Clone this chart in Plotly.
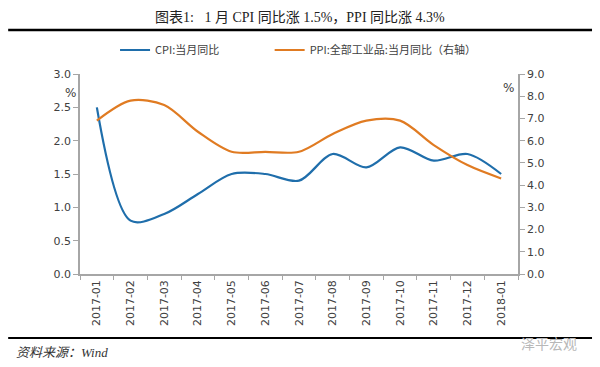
import plotly.graph_objects as go

months = ["2017-01", "2017-02", "2017-03", "2017-04", "2017-05", "2017-06", "2017-07",
          "2017-08", "2017-09", "2017-10", "2017-11", "2017-12", "2018-01"]
cpi = [2.5, 0.8, 0.9, 1.2, 1.5, 1.5, 1.4, 1.8, 1.6, 1.9, 1.7, 1.8, 1.5]
ppi = [6.9, 7.8, 7.6, 6.4, 5.5, 5.5, 5.5, 6.3, 6.9, 6.9, 5.8, 4.9, 4.3]
left_ticks = [0.0, 0.5, 1.0, 1.5, 2.0, 2.5, 3.0]
right_ticks = [0.0, 1.0, 2.0, 3.0, 4.0, 5.0, 6.0, 7.0, 8.0, 9.0]

title_text = "图表1:   1 月 CPI 同比涨 1.5%，PPI 同比涨 4.3%"
source_text = "资料来源：Wind"

axis_color = "#A6A6A6"
tick_font = dict(family="DejaVu Sans, Verdana, sans-serif", size=11, color="#404040")
legend_font = dict(family="Noto Sans CJK SC, sans-serif", size=11, color="#404040")

fig = go.Figure()
fig.add_trace(go.Scatter(x=months, y=cpi, name="CPI:当月同比", mode="lines", legend="legend",
                         line=dict(color="#1F6EAB", width=2.2, shape="spline", smoothing=0.9)))
fig.add_trace(go.Scatter(x=months, y=ppi, name="PPI:全部工业品:当月同比（右轴）", mode="lines",
                         yaxis="y2", legend="legend2",
                         line=dict(color="#E07B22", width=2.2, shape="spline", smoothing=0.9)))

fig.update_layout(
    width=600, height=367,
    paper_bgcolor="white", plot_bgcolor="white",
    margin=dict(l=80, r=82, t=74, b=93, autoexpand=False),
    showlegend=True,
    legend=dict(orientation="h", x=0.08, y=1.12, xanchor="left", yanchor="middle",
                font=legend_font, itemwidth=30, bgcolor="rgba(0,0,0,0)"),
    legend2=dict(orientation="h", x=0.433, y=1.12, xanchor="left", yanchor="middle",
                 font=legend_font, itemwidth=30, bgcolor="rgba(0,0,0,0)"),
    xaxis=dict(type="category", range=[-0.5, 12.5], tickson="boundaries",
               showline=True, linecolor=axis_color, linewidth=1.5,
               ticks="outside", ticklen=4, tickcolor=axis_color,
               tickangle=-90, tickfont=tick_font, showgrid=False, zeroline=False),
    yaxis=dict(range=[0, 3.0], tickvals=left_ticks, ticktext=[f"{v:.1f}" for v in left_ticks],
               showline=True, linecolor=axis_color, linewidth=1.5,
               ticks="outside", ticklen=5, tickcolor=axis_color,
               tickfont=tick_font, showgrid=False, zeroline=False),
    yaxis2=dict(range=[0, 9.0], tickvals=right_ticks, ticktext=[f"{v:.1f}" for v in right_ticks],
                overlaying="y", side="right",
                showline=True, linecolor=axis_color, linewidth=1.5,
                ticks="outside", ticklen=5, tickcolor=axis_color,
                tickfont=tick_font, showgrid=False, zeroline=False),
    shapes=[
        dict(type="line", xref="paper", yref="paper", x0=-0.164, x1=1.169, y0=1.22, y1=1.22,
             line=dict(color="black", width=2.5)),
        dict(type="line", xref="paper", yref="paper", x0=-0.164, x1=1.169, y0=-0.32, y1=-0.32,
             line=dict(color="black", width=2)),
    ],
    annotations=[
        dict(text=title_text, xref="paper", yref="paper", x=0.502, y=1.285, showarrow=False,
             xanchor="center", yanchor="middle",
             font=dict(family="Liberation Serif, Noto Sans CJK SC, serif", size=14, color="#222222")),
        dict(text="%", xref="paper", yref="paper", x=-0.005, y=0.905, showarrow=False,
             xanchor="right", yanchor="middle",
             font=dict(family="DejaVu Sans, sans-serif", size=12, color="#404040")),
        dict(text="%", xref="paper", yref="paper", x=0.995, y=0.93, showarrow=False,
             xanchor="right", yanchor="middle",
             font=dict(family="DejaVu Sans, sans-serif", size=12, color="#404040")),
        dict(text="<i>" + source_text + "</i>", xref="paper", yref="paper", x=-0.150, y=-0.39,
             showarrow=False, xanchor="left", yanchor="middle",
             font=dict(family="Liberation Serif, Noto Sans CJK SC, serif", size=13, color="#333333")),
        dict(text="泽平宏观", xref="paper", yref="paper", x=1.14, y=-0.345, showarrow=False,
             xanchor="right", yanchor="middle",
             font=dict(family="Noto Sans CJK SC, sans-serif", size=14, color="#B8B8B8")),
    ],
)

fig.write_html("out.html", config={"displayModeBar": False})

with open("out.html", "r", encoding="utf-8") as f:
    html = f.read()
html = html.replace("<head>", "<head><style>html,body{margin:0;padding:0;}</style>", 1)
with open("out.html", "w", encoding="utf-8") as f:
    f.write(html)
